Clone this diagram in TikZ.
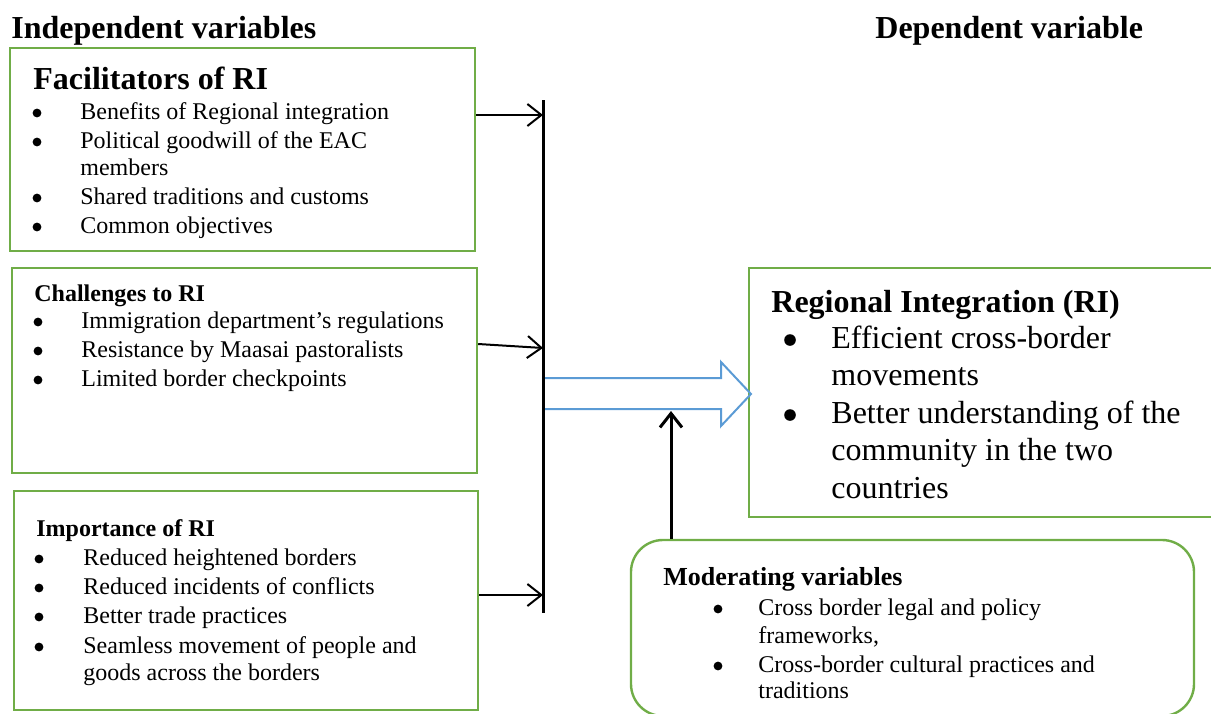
\documentclass[tikz,border=0pt]{standalone}
\usepackage{fontspec}
\setmainfont{Liberation Serif}
\usetikzlibrary{arrows.meta}
\definecolor{boxgreen}{RGB}{112,173,71}
\definecolor{flowblue}{RGB}{91,155,213}

\tikzset{
  box/.style={draw=boxgreen, line width=1.2pt, inner sep=0pt},
  title/.style={anchor=base west, inner sep=0pt, font=\fontsize{16}{19}\selectfont\bfseries},
  head/.style={anchor=base west, inner sep=0pt, font=\fontsize{12}{14}\selectfont\bfseries},
  mhead/.style={anchor=base west, inner sep=0pt, font=\fontsize{13}{15}\selectfont\bfseries},
  item/.style={anchor=base west, inner sep=0pt, font=\fontsize{12}{14}\selectfont},
  dot/.style={circle, fill, inner sep=0pt, minimum size=4.4pt, yshift=3pt},
  bigitem/.style={anchor=base west, inner sep=0pt, font=\fontsize{16}{19}\selectfont},
  bigdot/.style={circle, fill, inner sep=0pt, minimum size=5.8pt, yshift=4pt},
  link/.style={line width=1pt, -{Straight Barb[length=7pt, width=11pt]}},
  bar/.style={line width=1.5pt},
  flow/.style={draw=flowblue, line width=1pt, line join=miter}
}

\begin{document}
\begin{tikzpicture}[x=0.5pt, y=-0.5pt]
    \useasboundingbox (0,0) rectangle (1211,713);
    \clip (0,0) rectangle (1211,713);

    \node[title] (indep) at (11,38) {Independent variables};
    \node[title] (dep) at (875,38) {Dependent variable};

    % boxes
    \node[box, minimum width=232.5pt, minimum height=101.5pt] (fac) at (242.5,149.5) {};
    \node[box, minimum width=232.5pt, minimum height=102.5pt] (chal) at (244.5,370.5) {};
    \node[box, minimum width=232pt, minimum height=109.5pt] (imp) at (246,600.5) {};
    \node[box, minimum width=233.5pt, minimum height=124.5pt] (ri) at (982.5,392.5) {};
    \node[box, rounded corners=16pt, minimum width=281.5pt, minimum height=88pt] (mod) at (912.5,628) {};

    % facilitators
    \node[title] (facH) at (33,89) {Facilitators of RI};
    \foreach \y/\t in {119/Benefits of Regional integration, 148/Political goodwill of the EAC,
                       204/Shared traditions and customs, 233/Common objectives}
    {
        \node[dot] (facB\y) at (37,\y) {};
        \node[item] (facT\y) at (80,\y) {\t};
    }
    \node[item] (facT175) at (80,175) {members};

    % challenges
    \node[head] (chalH) at (34,301) {Challenges to RI};
    \foreach \y/\t in {328/Immigration department's regulations, 357/Resistance by Maasai pastoralists,
                       386/Limited border checkpoints}
    {
        \node[dot] (chalB\y) at (38,\y) {};
        \node[item] (chalT\y) at (81,\y) {\t};
    }

    % importance
    \node[head] (impH) at (36,536) {Importance of RI};
    \foreach \y/\t in {565/Reduced heightened borders, 594/Reduced incidents of conflicts,
                       623/Better trade practices, 653/Seamless movement of people and}
    {
        \node[dot] (impB\y) at (39,\y) {};
        \node[item] (impT\y) at (83,\y) {\t};
    }
    \node[item] (impT680) at (83,680) {goods across the borders};

    % regional integration
    \node[title] (riH) at (771,312) {Regional Integration (RI)};
    \foreach \y/\t in {348/Efficient cross-border, 423/Better understanding of the}
    {
        \node[bigdot] (riB\y) at (790,\y) {};
        \node[bigitem] (riT\y) at (831,\y) {\t};
    }
    \node[bigitem] (riT385) at (831,385) {movements};
    \node[bigitem] (riT460) at (831,460) {community in the two};
    \node[bigitem] (riT498) at (831,498) {countries};

    % moderating
    \node[mhead] (modH) at (663,585) {Moderating variables};
    \foreach \y/\t in {615/Cross border legal and policy, 672/Cross-border cultural practices and}
    {
        \node[dot] (modB\y) at (718,\y) {};
        \node[item] (modT\y) at (758,\y) {\t};
    }
    \node[item] (modT643) at (758,643) {frameworks,};
    \node[item] (modT698) at (758,698) {traditions};

    % connectors
    \coordinate (bartop) at (543,100);
    \coordinate (barbot) at (543,613);
    \coordinate (flowtip) at (671,411);

    \draw[flow] (545,378) -- (721,378) -- (721,362) -- (751,394) -- (721,426) -- (721,409) -- (545,409);
    \draw[bar] (bartop) -- (barbot);

    \draw[link] (fac.east |- 0,115) -- (bartop |- 0,115);
    \draw[link] (chal.east |- 0,344) -- (bartop |- 0,348);
    \draw[link] (imp.east |- 0,595) -- (bartop |- 0,595);
    \draw[link, line width=1.5pt] (mod.north -| flowtip) -- (flowtip);

\end{tikzpicture}
\end{document}
